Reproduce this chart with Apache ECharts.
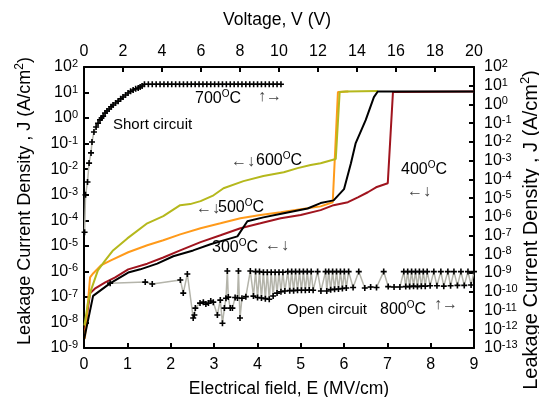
<!DOCTYPE html>
<html>
<head>
<meta charset="utf-8">
<script src="https://cdn.jsdelivr.net/npm/echarts@6/dist/echarts.min.js"></script>
<style>
  html, body { margin: 0; padding: 0; background: #fff; }
  #chart { width: 539px; height: 397px; }
</style>
</head>
<body>
<div id="chart"></div>
<script>
// bottom axis E (MV/cm) / left axis J (A/cm2)
var curve300 = [[0,2.1e-9],[0.21,1.1e-7],[0.60,3.4e-7],[1.02,9e-7],[1.30,1.2e-6],[1.69,2.0e-6],[2.06,3.9e-6],[2.52,6.6e-6],[2.92,1.15e-5],[3.54,2.35e-5],[3.77,9.1e-5],[4.14,1.3e-4],[4.61,1.9e-4],[5.16,2.9e-4],[5.46,4.7e-4],[5.76,6e-4],[6.00,1.65e-3],[6.16,1.7e-2],[6.27,0.105],[6.50,0.83],[6.69,6.6],[6.78,11],[9.0,11]];
var curve400 = [[0.02,4.9e-9],[0.14,1.4e-7],[0.25,2.1e-7],[0.49,3.7e-7],[0.72,5.8e-7],[1.02,1.2e-6],[1.46,2.0e-6],[1.83,3.5e-6],[2.22,6.6e-6],[2.69,1.4e-5],[3.15,2.6e-5],[3.61,4.9e-5],[4.07,7.6e-5],[4.54,1.2e-4],[5.0,1.6e-4],[5.46,2.5e-4],[5.76,3.9e-4],[6.09,5.1e-4],[6.32,7.9e-4],[6.55,1.25e-3],[6.74,1.95e-3],[7.01,2.8e-3],[7.13,10.5],[9.0,11]];
var curve500 = [[0.02,2.3e-9],[0.14,5.8e-7],[0.21,8.3e-7],[0.39,1.7e-6],[0.62,2.7e-6],[1.02,5.6e-6],[1.46,1.05e-5],[1.83,1.65e-5],[2.22,2.8e-5],[2.69,4.9e-5],[3.15,7.6e-5],[3.61,1.2e-4],[4.07,1.6e-4],[4.54,2.05e-4],[5.0,2.7e-4],[5.46,3.5e-4],[5.74,5.1e-4],[5.86,10.5],[6.1,11]];
var curve600 = [[0.01,7.6e-9],[0.09,5.6e-8],[0.16,1.8e-7],[0.32,1.1e-6],[0.49,2.7e-6],[0.67,6.6e-6],[1.00,1.95e-5],[1.46,7.6e-5],[1.83,1.45e-4],[2.22,3.9e-4],[2.45,4.3e-4],[2.69,5.6e-4],[2.99,9.5e-4],[3.22,1.8e-3],[3.68,3.4e-3],[4.14,5.4e-3],[4.61,7.6e-3],[4.93,1.1e-2],[5.23,1.45e-2],[5.46,1.7e-2],[5.81,2.5e-2],[5.90,10.5],[6.04,11],[6.78,11.5]];

// top axis V (V) / right axis J (A/cm2)
var shortCircuit = [[0.03,1.5e-7],[0.08,1.5e-5],[0.18,7.2e-5],[0.26,7.4e-4],[0.36,2.6e-3],[0.41,1e-2],[0.51,3.4e-2],[0.62,6.3e-2],[0.72,0.10],[0.82,0.15],[0.90,0.19],[0.98,0.24],[1.08,0.35],[1.18,0.45],[1.29,0.57],[1.39,0.75],[1.49,0.93],[1.62,1.2],[1.75,1.5],[1.88,2.0],[2.0,2.5],[2.13,3.2],[2.26,4.1],[2.39,5.0],[2.52,5.9],[2.65,6.8],[2.78,7.6],[2.88,8.6],[2.98,9.7],[3.1,12],[3.3,12],[3.5,12],[3.7,12],[3.9,12],[4.1,12],[4.3,12],[4.5,12],[4.7,12],[4.9,12],[5.1,12],[5.3,12],[5.5,12],[5.7,12],[5.9,12],[6.1,12],[6.3,12],[6.5,12],[6.7,12],[6.9,12],[7.1,12],[7.3,12],[7.5,12],[7.7,12],[7.9,12],[8.1,12],[8.3,12],[8.5,12],[8.7,12],[8.9,12],[9.1,12],[9.3,12],[9.5,12],[9.7,12],[9.9,12],[10.1,12]];
var openCircuit = [[1.34,2.9e-10],[3.14,3.3e-10],[3.50,2.6e-10],[4.94,4.3e-10],[5.09,8.5e-11],[5.30,8.9e-10],[5.60,4e-12],[5.66,5.8e-12],[5.71,1.35e-11],[5.95,2.5e-11],[6.12,2.8e-11],[6.25,2.2e-11],[6.38,2.5e-11],[6.50,3.2e-11],[6.63,2.8e-11],[6.84,5.8e-12],[6.99,3.6e-11],[7.10,2.1e-12],[7.20,1.35e-11],[7.28,4.5e-11],[7.35,1.3e-9],[7.40,5.2e-11],[7.50,1.35e-11],[7.61,1.35e-11],[7.75,5e-11],[7.87,4.7e-11],[7.92,1.3e-9],[8.0,4e-12],[8.1,4.5e-11],[8.3,5.5e-11],[8.53,1.3e-9],[8.69,5.9e-11],
    [8.8,1.2e-9],[8.9,5e-11],[9.0,1.2e-9],[9.1,4.7e-11],[9.2,1.1e-9],[9.3,4.3e-11],[9.4,1.1e-9],[9.5,4e-11],[9.6,1.1e-9],[9.7,6e-11],[9.8,1.1e-9],[9.9,8.5e-11],[10.0,1.1e-9],[10.1,1.0e-10],[10.2,1.1e-9],[10.3,1.1e-10],
    [10.45,1.2e-9],[10.55,1.15e-10],[10.65,1.2e-9],[10.75,1.15e-10],[10.85,1.2e-9],[10.95,1.2e-10],[11.05,1.2e-9],[11.15,1.2e-10],[11.25,1.2e-9],[11.35,1.2e-10],[11.45,1.2e-9],[11.55,1.25e-10],[11.65,1.2e-9],[11.75,1.2e-10],[11.98,1.2e-9],[12.15,1.1e-10],[12.39,1.2e-9],[12.45,1.1e-10],
    [12.55,1.2e-9],[12.65,1.3e-10],[12.75,1.2e-9],[12.85,1.35e-10],[12.95,1.2e-9],[13.05,1.4e-10],[13.15,1.2e-9],[13.25,1.5e-10],[13.35,1.2e-9],[13.45,1.6e-10],[13.57,1.2e-9],[13.8,1.7e-10],[14.09,1.2e-9],[14.4,1.6e-10],[14.7,1.8e-10],[15.0,1.7e-10],[15.37,1.2e-9],[15.6,1.9e-10],[15.9,1.8e-10],[16.2,1.8e-10],
    [16.4,1.2e-9],[16.5,1.9e-10],[16.6,1.2e-9],[16.7,1.9e-10],[16.8,1.2e-9],[16.9,2e-10],[17.0,1.2e-9],[17.1,1.9e-10],[17.2,1.2e-9],[17.3,2e-10],[17.4,1.2e-9],[17.5,2e-10],[17.6,1.2e-9],[17.75,2.1e-10],[17.94,1.2e-9],[18.1,2.1e-10],[18.3,1.2e-9],[18.45,2e-10],[18.66,1.2e-9],[18.8,2.1e-10],[18.97,1.2e-9],[19.15,2.2e-10],[19.33,1.2e-9],[19.5,2.2e-10],[19.69,1.2e-9],[19.85,2.3e-10],[20.0,1.2e-9]];

var FONT = '"Liberation Sans", Arial, sans-serif';
var plus = 'path://M2.2,0H3.8V2.2H6V3.8H3.8V6H2.2V3.8H0V2.2H2.2Z';
var supRich = { s: { fontSize: 11, lineHeight: 9, verticalAlign: 'top', fontFamily: FONT, color: '#000' } };

function expLabel(v) {
    return '10{s|' + Math.round(Math.log10(v)) + '}';
}

var myChart = echarts.init(document.getElementById('chart'));

var axisLine = { show: true, onZero: false, lineStyle: { color: '#000', width: 2 } };
var axisTick = { show: true, inside: true, length: 5, lineStyle: { color: '#000', width: 2 } };

function lineSeries(data, color, xi, yi) {
    return {
        type: 'line', data: data, xAxisIndex: xi, yAxisIndex: yi,
        showSymbol: false, symbol: 'none',
        lineStyle: { color: color, width: 2 }, itemStyle: { color: color }
    };
}

function dotSeries(data) {
    return {
        type: 'line', data: data, xAxisIndex: 1, yAxisIndex: 1,
        symbol: plus, symbolSize: 6, showAllSymbol: true,
        lineStyle: { color: '#b4b4aa', width: 1.5 },
        itemStyle: { color: '#000' }
    };
}

function label(text, x, y, size, color) {
    return {
        type: 'text', x: x, y: y,
        style: {
            text: text, font: size + 'px ' + FONT, fill: color || '#000',
            verticalAlign: 'middle', lineHeight: 20,
            rich: { s: { fontSize: 10, lineHeight: 10, verticalAlign: 'top', fontFamily: FONT, fill: color || '#000' } }
        }
    };
}

function yTitle(x, y, size) {
    return {
        type: 'text', x: x, y: y, rotation: Math.PI / 2,
        style: {
            text: 'Leakage Current Density , J (A/cm{s|2})', font: size + 'px ' + FONT, fill: '#000',
            align: 'center', verticalAlign: 'middle', lineHeight: size + 4,
            rich: { s: { fontSize: Math.round(size * 0.65), lineHeight: Math.round(size * 0.65), verticalAlign: 'top', fontFamily: FONT, fill: '#000' } }
        }
    };
}

var yLabel = {
    fontSize: 16, color: '#000', fontFamily: FONT, lineHeight: 17,
    formatter: expLabel, rich: supRich, interval: 0, hideOverlap: false,
    showMinLabel: true, showMaxLabel: true
};

var option = {
    backgroundColor: '#fff',
    animation: false,
    grid: { left: 84, right: 65, top: 67, bottom: 49, containLabel: false },
    xAxis: [{
        type: 'value', position: 'bottom', min: 0, max: 9, interval: 1,
        axisLine: axisLine, axisTick: axisTick, splitLine: { show: false },
        axisLabel: { fontSize: 16, color: '#000', fontFamily: FONT, margin: 9 }
    }, {
        type: 'value', position: 'top', min: 0, max: 20, interval: 2,
        axisLine: axisLine, axisTick: axisTick, splitLine: { show: false },
        axisLabel: { fontSize: 16, color: '#000', fontFamily: FONT, margin: 7 }
    }],
    yAxis: [{
        type: 'log', logBase: 10, position: 'left', min: 1e-9, max: 1e2, interval: 1,
        axisLine: axisLine, axisTick: axisTick, splitLine: { show: false },
        axisLabel: Object.assign({ margin: 6 }, yLabel)
    }, {
        type: 'log', logBase: 10, position: 'right', min: 1e-13, max: 1e2, interval: 1,
        axisLine: axisLine, axisTick: axisTick, splitLine: { show: false },
        axisLabel: Object.assign({ margin: 10 }, yLabel)
    }],
    series: [
        dotSeries(openCircuit),
        dotSeries(shortCircuit),
        lineSeries(curve400, '#a0141e', 0, 0),
        lineSeries(curve500, '#ff9a1a', 0, 0),
        lineSeries(curve600, '#b5b81c', 0, 0),
        lineSeries(curve300, '#000000', 0, 0)
    ],
    graphic: [
        { type: 'text', x: 277, y: 20, style: { text: 'Voltage, V (V)', font: '17.5px ' + FONT, fill: '#000', align: 'center', verticalAlign: 'middle' } },
        { type: 'text', x: 289, y: 389, style: { text: 'Electrical field, E (MV/cm)', font: '17.5px ' + FONT, fill: '#000', align: 'center', verticalAlign: 'middle' } },
        yTitle(25, 201, 18),
        yTitle(531, 230, 20),
        label('700{s|O}C', 195, 99, 16),
        label('\u2191\u2192', 258, 97, 16, '#444'),
        label('Short circuit', 113, 125, 15),
        label('\u2190\u2193', 231, 162, 16, '#444'),
        label('600{s|O}C', 256, 161, 16),
        label('\u2190\u2193', 196, 209, 16, '#444'),
        label('500{s|O}C', 218, 208, 16),
        label('300{s|O}C', 212, 248, 16),
        label('\u2190\u2193', 265, 246, 16, '#444'),
        label('400{s|O}C', 401, 170, 16),
        label('\u2190\u2193', 407, 192, 16, '#444'),
        label('Open circuit', 287, 310, 15),
        label('800{s|O}C', 380, 310, 16),
        label('\u2191\u2192', 434, 305, 16, '#444')
    ]
};

myChart.setOption(option);
</script>
</body>
</html>
